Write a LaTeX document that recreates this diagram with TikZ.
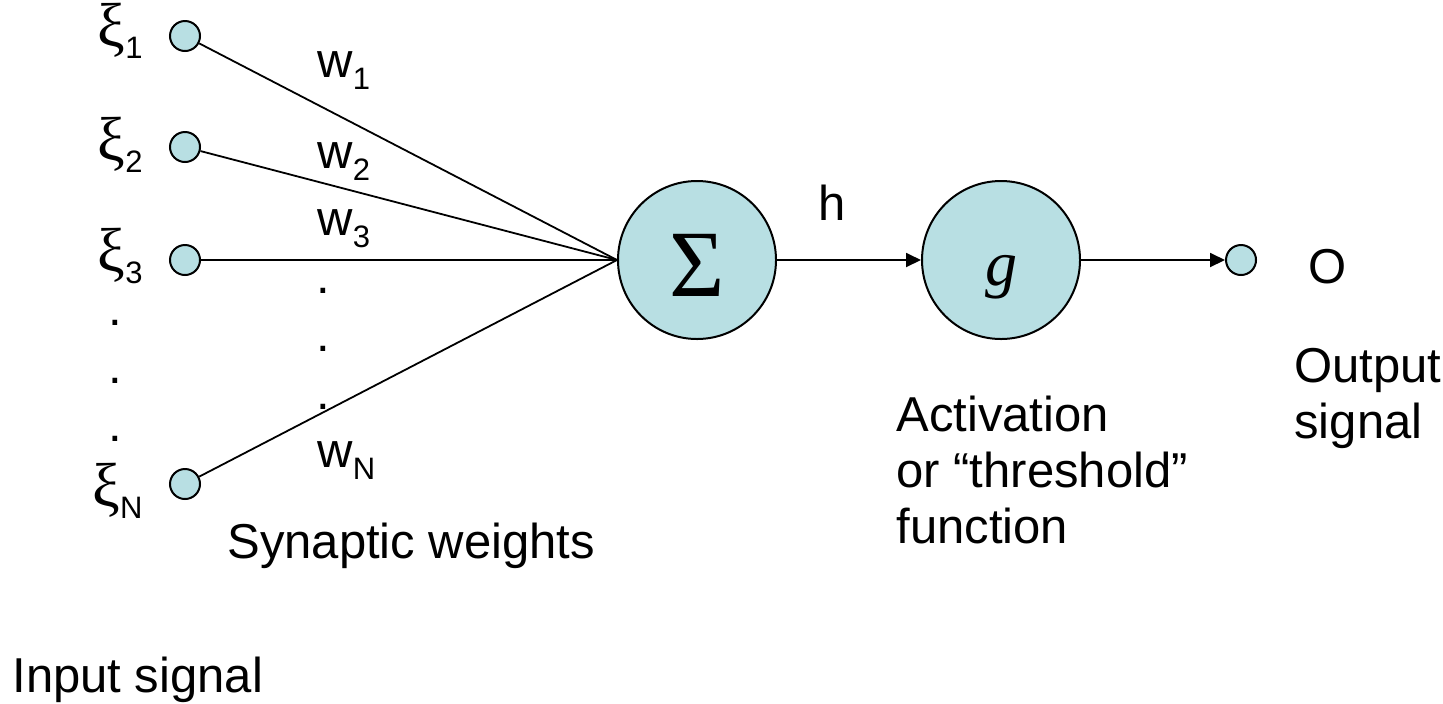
\documentclass[tikz,border=0pt]{standalone}
\usepackage{fontspec}
\setmainfont{Liberation Sans}
\newfontfamily\timesfont{Liberation Serif}
\usepackage{tikz}
\usetikzlibrary{arrows.meta, positioning}

\definecolor{cellfill}{RGB}{184,223,227}
\newcommand{\lowidx}[1]{\raisebox{-0.25em}{\fontsize{15.5}{16}\selectfont #1}}
\newcommand{\xisym}{{\fontsize{31}{32}\selectfont\timesfont ξ}}

\tikzset{
  smallunit/.style={circle, draw, line width=1pt, fill=cellfill, inner sep=0pt, minimum size=15pt},
  bigunit/.style={circle, draw, line width=1pt, fill=cellfill, inner sep=0pt, minimum size=79pt},
  lbl/.style={inner sep=0pt},
  wire/.style={line width=0.9pt},
  sig/.style={line width=0.9pt, -{Triangle[length=7.5pt, width=7pt]}},
}

\begin{document}
\begin{tikzpicture}[x=0.5pt, y=-0.5pt, font=\fontsize{24.5}{28}\selectfont]
\useasboundingbox (0,0) rectangle (1443,703);

% Input units
\node[smallunit] (x1) at (185,36) {};
\node[smallunit] (x2) at (185,147) {};
\node[smallunit] (x3) at (185,260) {};
\node[smallunit] (xN) at (185,484) {};

% Summation and activation
\node[bigunit, text height=36.5pt, text depth=0pt] (sum) at (697,260) {\fontsize{47.5}{50}\selectfont\timesfont Σ};
\node[bigunit, text height=25.5pt, text depth=0pt] (act) at (1001,260) {\fontsize{32}{34}\selectfont\timesfont\itshape g};
\node[smallunit] (out) at (1241,260) {};

% Connectors
\foreach \i in {x1,x2,x3,xN}
  \draw[wire] (\i) -- (sum.west);
\draw[sig] (sum) -- (act);
\draw[sig] (act) -- (out);

% Input labels
\node[lbl, anchor=base east] (l1) at (143,46) {\xisym\lowidx{1}};
\node[lbl, anchor=base east] (l2) at (143,160) {\xisym\lowidx{2}};
\node[lbl, anchor=base east] (l3) at (143,271) {\xisym\lowidx{3}};
\node[lbl, anchor=base east] (lN) at (143,506) {\xisym\lowidx{N}};
\foreach \y [count=\k] in {325,383,441}
  \node[lbl, anchor=base] (ld\k) at (115,\y) {.};

% Weights
\node[lbl, anchor=base west] (w1) at (317,77) {w\lowidx{1}};
\node[lbl, anchor=base west] (w2) at (317,168) {w\lowidx{2}};
\node[lbl, anchor=base west] (w3) at (317,235) {w\lowidx{3}};
\node[lbl, anchor=base west] (wN) at (317,467) {w\lowidx{N}};
\foreach \y [count=\k] in {293,351,409}
  \node[lbl, anchor=base] (wd\k) at (323,\y) {.};

% Text
\node[lbl, anchor=base west] (h) at (818,220) {h};
\node[lbl, anchor=base west] (o) at (1308,283) {O};
\node[lbl, anchor=base west, align=left] (outtxt) at (1294,438) {Output\\signal};
\node[lbl, anchor=base west, align=left] (acttxt) at (896,543) {Activation\\or “threshold”\\function};
\node[lbl, anchor=base west] (syn) at (227,558) {Synaptic weights};
\node[lbl, anchor=base west] (inp) at (12,692) {Input signal};

\end{tikzpicture}
\end{document}
